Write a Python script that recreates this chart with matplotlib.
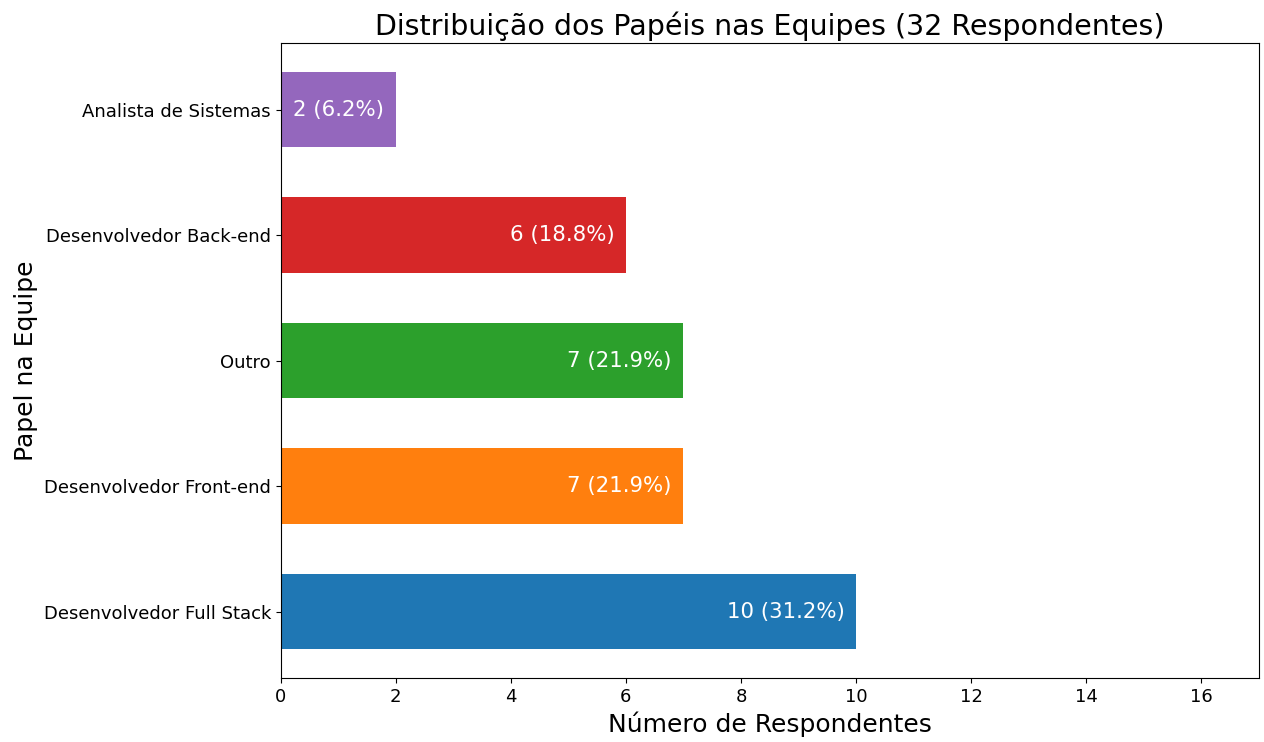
import matplotlib.pyplot as plt

# Dados
papeis = ["Desenvolvedor Full Stack", "Desenvolvedor Front-end", "Outro",
          "Desenvolvedor Back-end", "Analista de Sistemas"]
contagens = [10, 7, 7, 6, 2]
total = 32
cores = ["#1f77b4", "#ff7f0e", "#2ca02c", "#d62728", "#9467bd"]

fig, ax = plt.subplots(figsize=(12.64, 7.42), dpi=100)
barras = ax.barh(papeis, contagens, height=0.6, color=cores)

for barra, c in zip(barras, contagens):
    pct = c / total * 100
    ax.text(barra.get_width() - 0.2, barra.get_y() + barra.get_height() / 2,
            f"{c} ({pct:.1f}%)", ha="right", va="center", color="white", fontsize=15.3)

ax.set_xlim(0, 17)
ax.set_xticks(range(0, 17, 2))
ax.set_title(f"Distribuição dos Papéis nas Equipes ({total} Respondentes)", fontsize=20.5)
ax.set_xlabel("Número de Respondentes", fontsize=18)
ax.set_ylabel("Papel na Equipe", fontsize=18)
ax.tick_params(labelsize=13)

plt.subplots_adjust(left=0.222, right=0.996, top=0.942, bottom=0.086)
plt.savefig("out.png")
